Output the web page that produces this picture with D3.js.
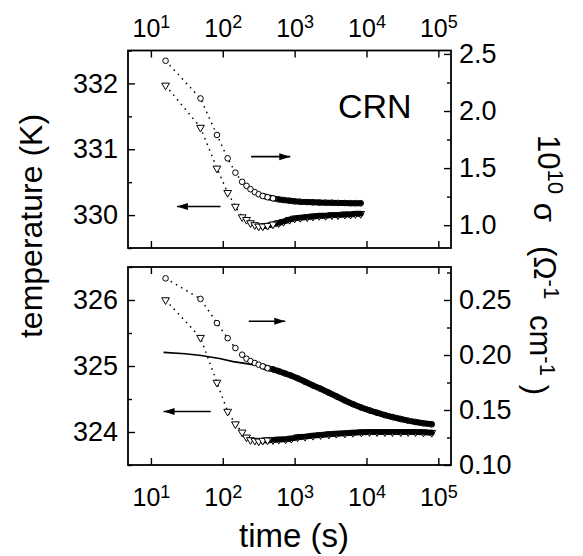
<!DOCTYPE html>
<html>
<head>
<meta charset="utf-8">
<script src="https://cdn.jsdelivr.net/npm/d3@7"></script>
<style>
  body { margin: 0; background: #fff; }
  svg { display: block; font-family: "Liberation Sans", Arial, sans-serif; }
  .domain { stroke: none; }
  .tick line { stroke: #000; stroke-width: 1.4; }
  .tick text { fill: #000; }
</style>
</head>
<body>
<svg width="583" height="556"></svg>
<script>
// time in seconds
let topTime = [16, 49, 83, 117, 150, 186, 214, 243, 279, 316, 360, 420, 500, 600, 700, 850, 1000, 1200, 1500, 1800, 2200, 2700, 3300, 4000, 5000, 6000, 7000, 8300];
// upper panel: conductivity (10^10 sigma) and temperature (K)
let topSigma = [2.44, 2.11, 1.79, 1.585, 1.46, 1.38, 1.344, 1.315, 1.289, 1.271, 1.256, 1.245, 1.235, 1.226, 1.22, 1.214, 1.209, 1.205, 1.202, 1.20, 1.198, 1.197, 1.196, 1.195, 1.194, 1.193, 1.193, 1.192];
let topTemp = [331.97, 331.33, 330.71, 330.34, 330.13, 329.97, 329.93, 329.88, 329.85, 329.83, 329.83, 329.84, 329.86, 329.88, 329.90, 329.93, 329.95, 329.96, 329.97, 329.98, 329.99, 329.99, 330.0, 330.0, 330.01, 330.01, 330.02, 330.02];

// lower panel
let botTime = [16, 49, 83, 117, 150, 186, 214, 243, 279, 316, 360, 420, 500, 600, 750, 900, 1100, 1400, 1800, 2300, 3000, 3800, 5000, 6500, 8500, 11000, 14000, 18000, 23000, 30000, 38000, 48000, 62000, 81000];
let botSigma = [0.2697, 0.251, 0.229, 0.2153, 0.2063, 0.2003, 0.1966, 0.1945, 0.1927, 0.1912, 0.1897, 0.188, 0.187, 0.1853, 0.183, 0.1812, 0.1788, 0.1756, 0.1723, 0.1693, 0.1657, 0.1625, 0.1586, 0.1553, 0.1522, 0.1497, 0.1475, 0.1454, 0.1436, 0.1418, 0.1403, 0.1391, 0.1379, 0.137];
let botTemp = [326.0, 325.43, 324.75, 324.31, 324.12, 323.995, 323.92, 323.88, 323.87, 323.86, 323.87, 323.875, 323.88, 323.885, 323.89, 323.90, 323.92, 323.93, 323.945, 323.955, 323.965, 323.975, 323.98, 323.99, 323.995, 324.0, 324.0, 324.0, 324.0, 324.0, 324.0, 324.0, 323.995, 323.99];

// solid fit curve through the lower conductivity data
let fitTime = [15, 30, 50, 90, 140, 250, 360, 500, 750, 1100, 1800, 3000, 5000, 8500, 14000, 23000, 38000, 62000, 81000];
let fitSigma = [0.2024, 0.2012, 0.1996, 0.1968, 0.194, 0.1915, 0.1897, 0.187, 0.183, 0.1788, 0.1723, 0.1657, 0.1586, 0.1522, 0.1475, 0.1436, 0.1403, 0.1379, 0.137];

let timeTicks = [1e1, 1e2, 1e3, 1e4, 1e5];
let topTempTicks = [330, 331, 332];
let topSigmaTicks = [1.0, 1.5, 2.0, 2.5];
let botTempTicks = [324, 325, 326];
let botSigmaTicks = [0.10, 0.15, 0.20, 0.25];

let svg = d3.select("svg");
let left = 128, right = 451;
let panels = [
  { top: 50.5, bottom: 248, tDom: [329.5, 332.5], sDom: [0.8, 2.53],
    time: topTime, sigma: topSigma, temp: topTemp,
    tTicks: topTempTicks, tMinor: [329.5, 330.5, 331.5, 332.5],
    sTicks: topSigmaTicks, sMinor: [1.25, 1.75, 2.25], sFmt: d3.format(".1f"), band: 360 },
  { top: 267, bottom: 465, tDom: [323.5, 326.5], sDom: [0.10, 0.28],
    time: botTime, sigma: botSigma, temp: botTemp,
    tTicks: botTempTicks, tMinor: [323.5, 324.5, 325.5, 326.5],
    sTicks: botSigmaTicks, sMinor: [0.125, 0.175, 0.225, 0.275], sFmt: d3.format(".2f"), band: 330 }
];

let x = d3.scaleLog().domain([4.8, 1.5e5]).range([left, right]);

function supLabels(g) {
  g.selectAll(".tick text").text("10")
    .append("tspan").attr("dy", "-0.45em").attr("font-size", "0.72em")
    .text(d => Math.round(Math.log10(d)));
}

panels.forEach((p, pi) => {
  let yT = d3.scaleLinear().domain(p.tDom).range([p.bottom, p.top]);
  let yS = d3.scaleLinear().domain(p.sDom).range([p.bottom, p.top]);
  let g = svg.append("g");

  // time axes, ticks pointing in
  let xt = g.append("g").attr("transform", `translate(0,${p.top})`)
    .call(d3.axisTop(x).tickValues(timeTicks).tickSize(-7).tickPadding(14))
    .attr("font-size", 25).attr("font-family", null);
  let xb = g.append("g").attr("transform", `translate(0,${p.bottom})`)
    .call(d3.axisBottom(x).tickValues(timeTicks).tickSize(-7).tickPadding(23))
    .attr("font-size", 25).attr("font-family", null);
  if (pi == 0) { supLabels(xt); xb.selectAll(".tick text").remove(); }
  else { supLabels(xb); xt.selectAll(".tick text").remove(); }

  // temperature axis (left)
  g.append("g").attr("transform", `translate(${left},0)`)
    .call(d3.axisLeft(yT).tickValues(p.tTicks).tickSize(-7).tickPadding(10).tickFormat(d3.format("d")))
    .attr("font-size", 27).attr("font-family", null);
  g.append("g").attr("transform", `translate(${left},0)`)
    .call(d3.axisLeft(yT).tickValues(p.tMinor).tickSize(-4).tickFormat(""));

  // conductivity axis (right)
  g.append("g").attr("transform", `translate(${right},0)`)
    .call(d3.axisRight(yS).tickValues(p.sTicks).tickSize(-7).tickPadding(8).tickFormat(p.sFmt))
    .attr("font-size", 27).attr("font-family", null);
  g.append("g").attr("transform", `translate(${right},0)`)
    .call(d3.axisRight(yS).tickValues(p.sMinor).tickSize(-4).tickFormat(""));

  g.append("rect").attr("x", left).attr("y", p.top)
    .attr("width", right - left).attr("height", p.bottom - p.top)
    .attr("fill", "none").attr("stroke", "#000").attr("stroke-width", 1.8);

  let sPts = p.time.map((t, i) => [t, p.sigma[i]]);
  let tPts = p.time.map((t, i) => [t, p.temp[i]]);
  let lineS = d3.line().x(d => x(d[0])).y(d => yS(d[1]));
  let lineT = d3.line().x(d => x(d[0])).y(d => yT(d[1]));

  // fit curve (lower panel only)
  if (pi == 1) {
    let fit = fitTime.map((t, i) => [t, fitSigma[i]]);
    g.append("path").attr("d", lineS(fit)).attr("fill", "none")
      .attr("stroke", "#000").attr("stroke-width", 1.6);
  }

  // dotted guides through the points
  [[sPts, lineS], [tPts, lineT]].forEach(([pts, ln]) => {
    g.append("path").attr("d", ln(pts)).attr("fill", "none")
      .attr("stroke", "#000").attr("stroke-width", 1.5)
      .attr("stroke-dasharray", "1.5,4.5");
    // the dense late-time points merge into a solid band
    g.append("path").attr("d", ln(pts.filter(d => d[0] >= p.band))).attr("fill", "none")
      .attr("stroke", "#000").attr("stroke-width", 6).attr("stroke-linecap", "round");
  });

  g.selectAll(".circ").data(sPts).enter().append("circle")
    .attr("cx", d => x(d[0])).attr("cy", d => yS(d[1])).attr("r", 2.8)
    .attr("fill", "#fff").attr("stroke", "#000").attr("stroke-width", 1);

  let tri = d3.symbol(d3.symbolTriangle, 26);
  g.selectAll(".tri").data(tPts).enter().append("path")
    .attr("d", tri)
    .attr("transform", d => `translate(${x(d[0])},${yT(d[1])}) rotate(180)`)
    .attr("fill", "#fff").attr("stroke", "#000").attr("stroke-width", 1);

  // keep the dense band black over the marker fills
  [[sPts, lineS], [tPts, lineT]].forEach(([pts, ln]) => {
    g.append("path").attr("d", ln(pts.filter(d => d[0] >= p.band * 1.4))).attr("fill", "none")
      .attr("stroke", "#000").attr("stroke-width", 5).attr("stroke-linecap", "round");
  });
  p.yT = yT; p.yS = yS; p.g = g;
});

// arrows pointing at the axis each curve belongs to
function arrow(g, x1, x2, y, toRight) {
  let xs = toRight ? x2 : x1, dir = toRight ? -1 : 1;
  g.append("line").attr("x1", x1).attr("x2", x2).attr("y1", y).attr("y2", y)
    .attr("stroke", "#000").attr("stroke-width", 1.6);
  g.append("path").attr("d", `M${xs},${y} l${dir * 11},-3.5 l0,7 z`).attr("fill", "#000");
}
let P0 = panels[0], P1 = panels[1];
arrow(P0.g, x(248), x(870), P0.yS(1.60), true);
arrow(P0.g, x(23), x(93), P0.yT(330.13), false);
arrow(P1.g, x(230), x(740), P1.yS(0.2307), true);
arrow(P1.g, x(15), x(68), P1.yT(324.31), false);

P0.g.append("text").attr("x", x(4000)).attr("y", P0.top + 67)
  .attr("font-size", 34).text("CRN");

// axis titles
svg.append("text").attr("transform", "translate(42,226) rotate(-90)")
  .attr("text-anchor", "middle").attr("font-size", 32).text("temperature (K)");
svg.append("text").attr("x", 294).attr("y", 547)
  .attr("text-anchor", "middle").attr("font-size", 33).text("time (s)");

let rt = svg.append("text").attr("transform", "translate(538,265) rotate(90)")
  .attr("text-anchor", "middle").attr("font-size", 31);
rt.append("tspan").text("10");
rt.append("tspan").attr("dy", "-0.45em").attr("font-size", "0.72em").text("10");
rt.append("tspan").attr("dy", "0.45em").attr("xml:space", "preserve").text(" \u03c3\u2002 (\u03a9");
rt.append("tspan").attr("dy", "-0.45em").attr("font-size", "0.72em").text("-1");
rt.append("tspan").attr("dy", "0.45em").text("\u2002cm");
rt.append("tspan").attr("dy", "-0.45em").attr("font-size", "0.72em").text("-1");
rt.append("tspan").attr("dy", "0.45em").text(" )");
</script>
</body>
</html>
